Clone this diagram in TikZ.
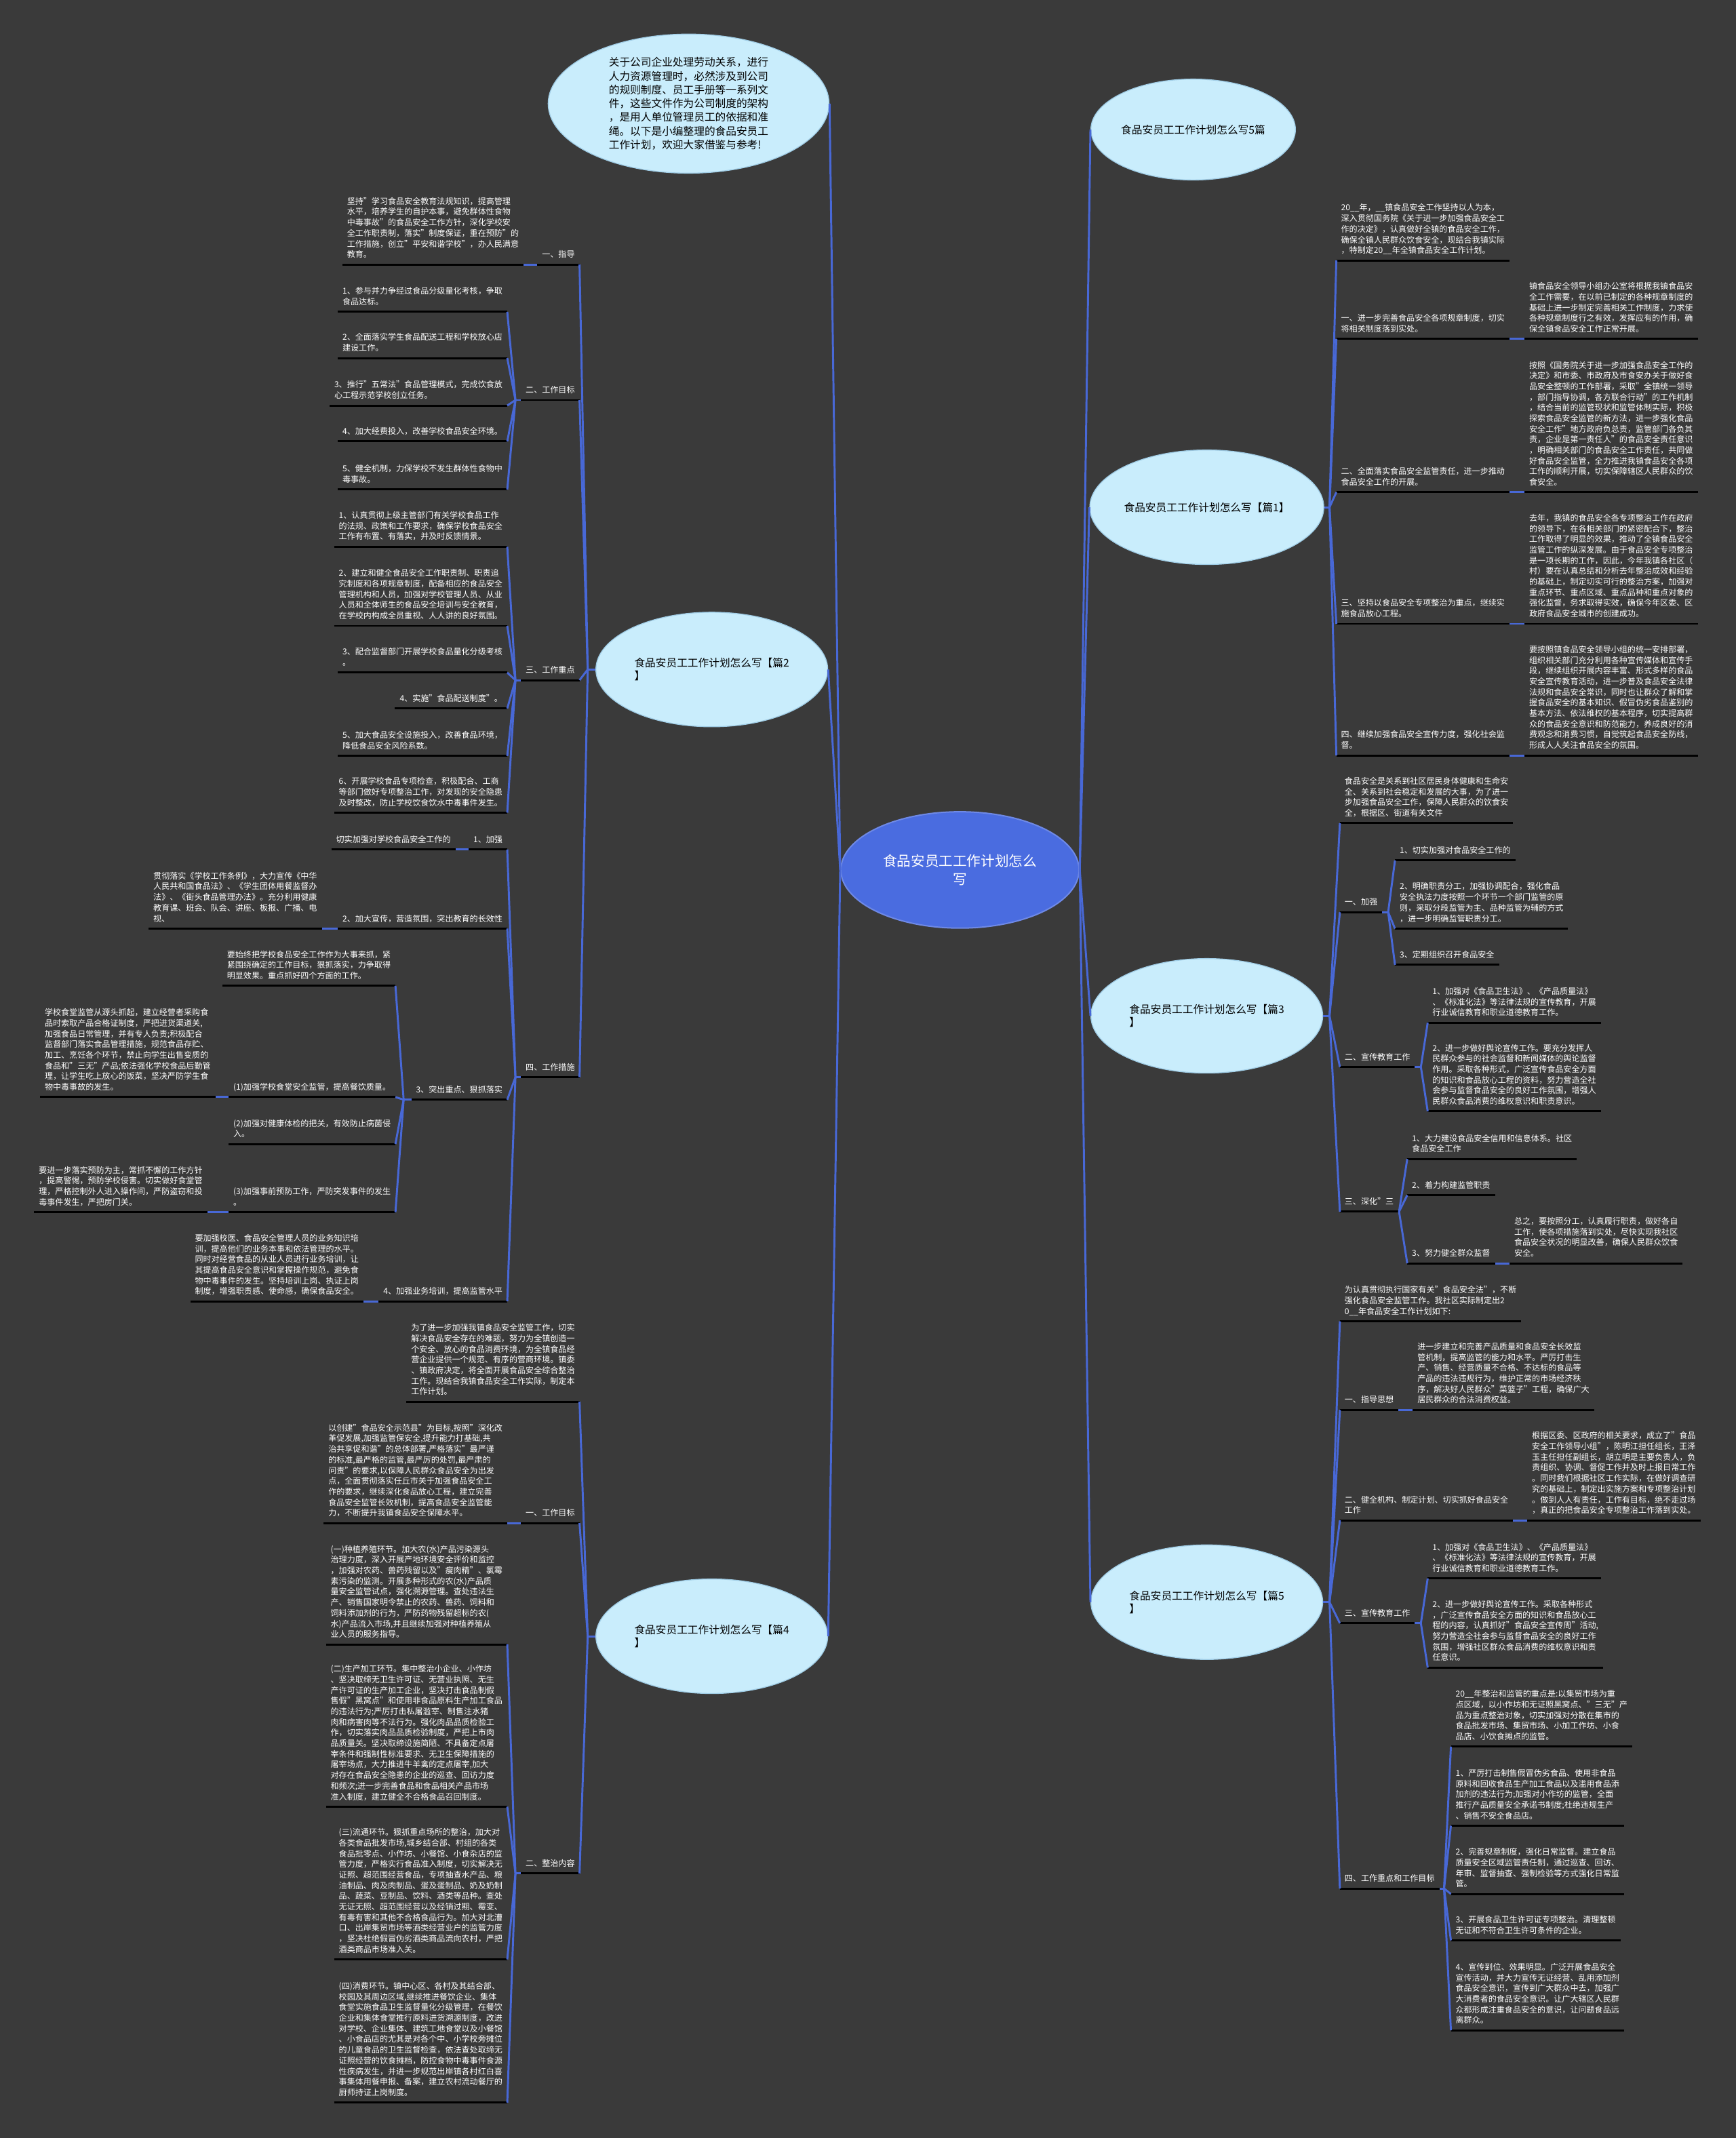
\documentclass[tikz,border=0pt]{standalone}
\usepackage{fontspec}
\setmainfont{Noto Sans CJK SC}
\usetikzlibrary{shapes.geometric}

\definecolor{bgGray}{RGB}{58,58,58}
\definecolor{topicCyan}{RGB}{201,237,252}
\definecolor{topicEdge}{RGB}{160,205,230}
\definecolor{rootBlue}{RGB}{74,108,224}
\definecolor{linkBlue}{RGB}{72,104,214}

\tikzset{every picture/.style={line width=0.75pt}}
\tikzset{
  uline/.style={draw=black, line width=1.1pt},
  link/.style={draw=linkBlue, line width=1.1pt},
  leaf/.style={text=white, align=left, inner xsep=2.25pt, inner ysep=2.3pt,
    font=\fontsize{4.5}{5.85}\selectfont,
    execute at end node={\rule[-1.2pt]{0pt}{1.2pt}},
    append after command={(\tikzlastnode.south west) edge[uline] (\tikzlastnode.south east)}},
  leafL/.style={leaf, anchor=south east},
  leafR/.style={leaf, anchor=south west},
  topic/.style={ellipse, fill=topicCyan, draw=topicEdge, line width=0.5pt, inner sep=0pt,
    align=left, text=black, font=\fontsize{5.85}{7.2}\selectfont,
    minimum width=127.5pt, minimum height=63pt},
  rootnode/.style={ellipse, fill=rootBlue, draw=rootBlue!80!white, inner sep=0pt,
    align=center, text=white, font=\fontsize{7.7}{9.75}\selectfont,
    minimum width=131pt, minimum height=64pt}
}

\begin{document}
\begin{tikzpicture}[x=0.75pt,y=0.75pt,yscale=-1,xscale=1]
\fill[bgGray] (0,0) rectangle (1273,1568);
\useasboundingbox (0,0) rectangle (1273,1568);

%Shape: Ellipse
\node (root) at (704,638) [rootnode] {食品安员工工作计划怎么\\写};
%Shape: Ellipse
\node (intro) at (505,76) [topic, minimum width=154.5pt, minimum height=76.5pt, font=\fontsize{5.85}{7.56}\selectfont] {关于公司企业处理劳动关系，进行\\人力资源管理时，必然涉及到公司\\的规则制度、员工手册等一系列文\\件，这些文件作为公司制度的架构\\，是用人单位管理员工的依据和准\\绳。以下是小编整理的食品安员工\\工作计划，欢迎大家借鉴与参考!};
%Shape: Ellipse
\node (p0) at (875,95) [topic, minimum width=112.5pt, minimum height=55.5pt] {食品安员工工作计划怎么写5篇};
%Shape: Ellipse
\node (p1) at (885,372) [topic] {食品安员工工作计划怎么写【篇1】};
%Shape: Ellipse
\node (p2) at (522,491) [topic] {食品安员工工作计划怎么写【篇2\\】};
%Shape: Ellipse
\node (p3) at (885,745) [topic] {食品安员工工作计划怎么写【篇3\\】};
%Shape: Ellipse
\node (p4) at (522,1200) [topic] {食品安员工工作计划怎么写【篇4\\】};
%Shape: Ellipse
\node (p5) at (885,1175) [topic] {食品安员工工作计划怎么写【篇5\\】};

%Straight Lines
\draw[link] (root.west) -- (intro.east);
\draw[link] (root.west) -- (p2.east);
\draw[link] (root.west) -- (p4.east);
\draw[link] (root.east) -- (p0.west);
\draw[link] (root.east) -- (p1.west);
\draw[link] (root.east) -- (p3.west);
\draw[link] (root.east) -- (p5.west);

% ---------- 篇2 ----------
% Text Node
\node (g1) at (425,194) [leafL] {一、指导};
% Text Node
\node (g1d) at (384,194) [leafL] {坚持"学习食品安全教育法规知识，提高管理\\水平，培养学生的自护本事，避免群体性食物\\中毒事故"的食品安全工作方针，深化学校安\\全工作职责制，落实"制度保证，重在预防"的\\工作措施，创立"平安和谐学校"，办人民满意\\教育。};
% Text Node
\node (g2) at (425,293.4) [leafL] {二、工作目标};
% Text Node
\node (g21) at (372,228.7) [leafL] {1、参与并力争经过食品分级量化考核，争取\\食品达标。};
% Text Node
\node (g22) at (372,262.6) [leafL] {2、全面落实学生食品配送工程和学校放心店\\建设工作。};
% Text Node
\node (g23) at (372,297.4) [leafL] {3、推行"五常法"食品管理模式，完成饮食放\\心工程示范学校创立任务。};
% Text Node
\node (g24) at (372,323.7) [leafL] {4、加大经费投入，改善学校食品安全环境。};
% Text Node
\node (g25) at (372,359) [leafL] {5、健全机制，力保学校不发生群体性食物中\\毒事故。};
% Text Node
\node (g3) at (425,498.8) [leafL] {三、工作重点};
% Text Node
\node (g31) at (372,401) [leafL] {1、认真贯彻上级主管部门有关学校食品工作\\的法规、政策和工作要求，确保学校食品安全\\工作有布置、有落实，并及时反馈情景。};
% Text Node
\node (g32) at (372,459) [leafL] {2、建立和健全食品安全工作职责制、职责追\\究制度和各项规章制度，配备相应的食品安全\\管理机构和人员，加强对学校管理人员、从业\\人员和全体师生的食品安全培训与安全教育，\\在学校内构成全员重视、人人讲的良好氛围。};
% Text Node
\node (g33) at (372,493.3) [leafL] {3、配合监督部门开展学校食品量化分级考核\\。};
% Text Node
\node (g34) at (372,519.6) [leafL] {4、实施"食品配送制度"。};
% Text Node
\node (g35) at (372,554.4) [leafL] {5、加大食品安全设施投入，改善食品环境，\\降低食品安全风险系数。};
% Text Node
\node (g36) at (372,596) [leafL] {6、开展学校食品专项检查，积极配合、工商\\等部门做好专项整治工作，对发现的安全隐患\\及时整改，防止学校饮食饮水中毒事件发生。};
% Text Node
\node (g4) at (425,790) [leafL] {四、工作措施};
% Text Node
\node (g41) at (372,623) [leafL] {1、加强};
% Text Node
\node (g41d) at (334,623) [leafL] {切实加强对学校食品安全工作的};
% Text Node
\node (g42) at (372,681) [leafL] {2、加大宣传，营造氛围，突出教育的长效性};
% Text Node
\node (g42d) at (236,681) [leafL] {贯彻落实《学校工作条例》，大力宣传《中华\\人民共和国食品法》、《学生团体用餐监督办\\法》、《街头食品管理办法》。充分利用健康\\教育课、班会、队会、讲座、板报、广播、电\\视、};
% Text Node
\node (g43) at (372,806.5) [leafL] {3、突出重点、狠抓落实};
% Text Node
\node (g43a) at (290,723) [leafL] {要始终把学校食品安全工作作为大事来抓，紧\\紧围绕确定的工作目标，狠抓落实，力争取得\\明显效果。重点抓好四个方面的工作。};
% Text Node
\node (g43b) at (290,804.6) [leafL] {(1)加强学校食堂安全监管，提高餐饮质量。};
% Text Node
\node (g43bd) at (158,804.6) [leafL] {学校食堂监管从源头抓起，建立经营者采购食\\品时索取产品合格证制度，严把进货渠道关,\\加强食品日常管理，并有专人负责;积极配合\\监督部门落实食品管理措施，规范食品存贮、\\加工、烹饪各个环节，禁止向学生出售变质的\\食品和"三无"产品;依法强化学校食品后勤管\\理，让学生吃上放心的饭菜，坚决严防学生食\\物中毒事故的发生。};
% Text Node
\node (g43c) at (290,839) [leafL] {(2)加强对健康体检的把关，有效防止病菌侵\\入。};
% Text Node
\node (g43d) at (290,889) [leafL] {(3)加强事前预防工作，严防突发事件的发生\\。};
% Text Node
\node (g43dd) at (152,889) [leafL] {要进一步落实预防为主，常抓不懈的工作方针\\，提高警惕，预防学校侵害。切实做好食堂管\\理，严格控制外人进入操作间，严防盗窃和投\\毒事件发生，严把房门关。};
% Text Node
\node (g44) at (372,954.4) [leafL] {4、加强业务培训，提高监管水平};
% Text Node
\node (g44d) at (266.5,954.4) [leafL] {要加强校医、食品安全管理人员的业务知识培\\训，提高他们的业务本事和依法管理的水平。\\同时对经营食品的从业人员进行业务培训，让\\其提高食品安全意识和掌握操作规范，避免食\\物中毒事件的发生。坚持培训上岗、执证上岗\\制度，增强职责感、使命感，确保食品安全。};

\coordinate (p2s) at (431,491);
\coordinate (g2s) at (378,293.4);
\coordinate (g3s) at (378,498.8);
\coordinate (g4s) at (378,790);
\coordinate (g43s) at (296,806.5);

%Straight Lines
\draw[link] (p2.west) -- (p2s);
\draw[link] (p2s) -- (g1.south east);
\draw[link] (p2s) -- (g2.south east);
\draw[link] (p2s) -- (g3.south east);
\draw[link] (p2s) -- (g4.south east);
\draw[link] (g1.south west) -- (g1d.south east);
\draw[link] (g2.south west) -- (g2s);
\draw[link] (g2s) -- (g21.south east);
\draw[link] (g2s) -- (g22.south east);
\draw[link] (g2s) -- (g23.south east);
\draw[link] (g2s) -- (g24.south east);
\draw[link] (g2s) -- (g25.south east);
\draw[link] (g3.south west) -- (g3s);
\draw[link] (g3s) -- (g31.south east);
\draw[link] (g3s) -- (g32.south east);
\draw[link] (g3s) -- (g33.south east);
\draw[link] (g3s) -- (g34.south east);
\draw[link] (g3s) -- (g35.south east);
\draw[link] (g3s) -- (g36.south east);
\draw[link] (g4.south west) -- (g4s);
\draw[link] (g4s) -- (g41.south east);
\draw[link] (g4s) -- (g42.south east);
\draw[link] (g4s) -- (g43.south east);
\draw[link] (g4s) -- (g44.south east);
\draw[link] (g41.south west) -- (g41d.south east);
\draw[link] (g42.south west) -- (g42d.south east);
\draw[link] (g43.south west) -- (g43s);
\draw[link] (g43s) -- (g43a.south east);
\draw[link] (g43s) -- (g43b.south east);
\draw[link] (g43s) -- (g43c.south east);
\draw[link] (g43s) -- (g43d.south east);
\draw[link] (g43b.south west) -- (g43bd.south east);
\draw[link] (g43d.south west) -- (g43dd.south east);
\draw[link] (g44.south west) -- (g44d.south east);

% ---------- 篇4 ----------
% Text Node
\node (h0) at (425,1028) [leafL] {为了进一步加强我镇食品安全监管工作，切实\\解决食品安全存在的难题，努力为全镇创造一\\个安全、放心的食品消费环境，为全镇食品经\\营企业提供一个规范、有序的营商环境。镇委\\、镇政府决定，将全面开展食品安全综合整治\\工作。现结合我镇食品安全工作实际，制定本\\工作计划。};
% Text Node
\node (h1) at (425,1117) [leafL] {一、工作目标};
% Text Node
\node (h1d) at (372,1117) [leafL] {以创建"食品安全示范县"为目标,按照"深化改\\革促发展,加强监管保安全,提升能力打基础,共\\治共享促和谐"的总体部署,严格落实"最严谨\\的标准,最严格的监管,最严厉的处罚,最严肃的\\问责"的要求,以保障人民群众食品安全为出发\\点，全面贯彻落实任丘市关于加强食品安全工\\作的要求，继续深化食品放心工程，建立完善\\食品安全监管长效机制，提高食品安全监管能\\力，不断提升我镇食品安全保障水平。};
% Text Node
\node (h2) at (425,1374) [leafL] {二、整治内容};
% Text Node
\node (h21) at (372,1206) [leafL] {(一)种植养殖环节。加大农(水)产品污染源头\\治理力度，深入开展产地环境安全评价和监控\\，加强对农药、兽药残留以及"瘦肉精"、氯霉\\素污染的监测。开展多种形式的农(水)产品质\\量安全监管试点，强化溯源管理。查处违法生\\产、销售国家明令禁止的农药、兽药、饲料和\\饲料添加剂的行为，严防药物残留超标的农(\\水)产品流入市场,并且继续加强对种植养殖从\\业人员的服务指导。};
% Text Node
\node (h22) at (372,1325) [leafL] {(二)生产加工环节。集中整治小企业、小作坊\\、坚决取缔无卫生许可证、无营业执照、无生\\产许可证的生产加工企业，坚决打击食品制假\\售假"黑窝点"和使用非食品原料生产加工食品\\的违法行为;严厉打击私屠滥宰、制售注水猪\\肉和病害肉等不法行为。强化肉品品质检验工\\作，切实落实肉品品质检验制度，严把上市肉\\品质量关。坚决取缔设施简陋、不具备定点屠\\宰条件和强制性标准要求、无卫生保障措施的\\屠宰场点，大力推进牛羊禽的定点屠宰,加大\\对存在食品安全隐患的企业的巡查、回访力度\\和频次;进一步完善食品和食品相关产品市场\\准入制度，建立健全不合格食品召回制度。};
% Text Node
\node (h23) at (372,1437) [leafL] {(三)流通环节。狠抓重点场所的整治，加大对\\各类食品批发市场,城乡结合部、村组的各类\\食品批零点、小作坊、小餐馆、小食杂店的监\\管力度，严格实行食品准入制度，切实解决无\\证照、超范围经营食品，专项抽查水产品、粮\\油制品、肉及肉制品、蛋及蛋制品、奶及奶制\\品、蔬菜、豆制品、饮料、酒类等品种。查处\\无证无照、超范围经营以及经销过期、霉变、\\有毒有害和其他不合格食品行为。加大对北漕\\口、出岸集贸市场等酒类经营业户的监管力度\\，坚决杜绝假冒伪劣酒类商品流向农村，严把\\酒类商品市场准入关。};
% Text Node
\node (h24) at (372,1542) [leafL] {(四)消费环节。镇中心区、各村及其结合部、\\校园及其周边区域,继续推进餐饮企业、集体\\食堂实施食品卫生监督量化分级管理，在餐饮\\企业和集体食堂推行原料进货溯源制度，改进\\对学校、企业集体、建筑工地食堂以及小餐馆\\、小食品店的尤其是对各个中、小学校旁摊位\\的儿童食品的卫生监督检查，依法查处取缔无\\证照经营的饮食摊档，防控食物中毒事件食源\\性疾病发生，并进一步规范出岸镇各村红白喜\\事集体用餐申报、备案，建立农村流动餐厅的\\厨师持证上岗制度。};

\coordinate (p4s) at (431,1200);
\coordinate (h2s) at (378,1374);

%Straight Lines
\draw[link] (p4.west) -- (p4s);
\draw[link] (p4s) -- (h0.south east);
\draw[link] (p4s) -- (h1.south east);
\draw[link] (p4s) -- (h2.south east);
\draw[link] (h1.south west) -- (h1d.south east);
\draw[link] (h2.south west) -- (h2s);
\draw[link] (h2s) -- (h21.south east);
\draw[link] (h2s) -- (h22.south east);
\draw[link] (h2s) -- (h23.south east);
\draw[link] (h2s) -- (h24.south east);

% ---------- 篇1 ----------
% Text Node
\node (r10) at (980,191) [leafR] {20\_\_年，\_\_镇食品安全工作坚持以人为本，\\深入贯彻国务院《关于进一步加强食品安全工\\作的决定》，认真做好全镇的食品安全工作，\\确保全镇人民群众饮食安全，现结合我镇实际\\，特制定20\_\_年全镇食品安全工作计划。};
% Text Node
\node (r11) at (980,248.6) [leafR] {一、进一步完善食品安全各项规章制度，切实\\将相关制度落到实处。};
% Text Node
\node (r11d) at (1118,248.6) [leafR] {镇食品安全领导小组办公室将根据我镇食品安\\全工作需要，在以前已制定的各种规章制度的\\基础上进一步制定完善相关工作制度，力求使\\各种规章制度行之有效，发挥应有的作用，确\\保全镇食品安全工作正常开展。};
% Text Node
\node (r12) at (980,361) [leafR] {二、全面落实食品安全监管责任，进一步推动\\食品安全工作的开展。};
% Text Node
\node (r12d) at (1118,361) [leafR] {按照《国务院关于进一步加强食品安全工作的\\决定》和市委、市政府及市食安办关于做好食\\品安全整顿的工作部署，采取"全镇统一领导\\，部门指导协调，各方联合行动"的工作机制\\，结合当前的监管现状和监管体制实际，积极\\探索食品安全监管的新方法，进一步强化食品\\安全工作"地方政府负总责，监管部门各负其\\责，企业是第一责任人"的食品安全责任意识\\，明确相关部门的食品安全工作责任，共同做\\好食品安全监管，全力推进我镇食品安全各项\\工作的顺利开展，切实保障辖区人民群众的饮\\食安全。};
% Text Node
\node (r13) at (980,457.5) [leafR] {三、坚持以食品安全专项整治为重点，继续实\\施食品放心工程。};
% Text Node
\node (r13d) at (1118,457.5) [leafR] {去年，我镇的食品安全各专项整治工作在政府\\的领导下，在各相关部门的紧密配合下，整治\\工作取得了明显的效果，推动了全镇食品安全\\监管工作的纵深发展。由于食品安全专项整治\\是一项长期的工作，因此，今年我镇各社区（\\村）要在认真总结和分析去年整治成效和经验\\的基础上，制定切实可行的整治方案，加强对\\重点环节、重点区域、重点品种和重点对象的\\强化监督，务求取得实效，确保今年区委、区\\政府食品安全城市的创建成功。};
% Text Node
\node (r14) at (980,554) [leafR] {四、继续加强食品安全宣传力度，强化社会监\\督。};
% Text Node
\node (r14d) at (1118,554) [leafR] {要按照镇食品安全领导小组的统一安排部署，\\组织相关部门充分利用各种宣传媒体和宣传手\\段，继续组织开展内容丰富、形式多样的食品\\安全宣传教育活动，进一步普及食品安全法律\\法规和食品安全常识，同时也让群众了解和掌\\握食品安全的基本知识、假冒伪劣食品鉴别的\\基本方法、依法维权的基本程序，切实提高群\\众的食品安全意识和防范能力，养成良好的消\\费观念和消费习惯，自觉筑起食品安全防线，\\形成人人关注食品安全的氛围。};

\coordinate (p1s) at (975,372);

%Straight Lines
\draw[link] (p1.east) -- (p1s);
\draw[link] (p1s) -- (r10.south west);
\draw[link] (p1s) -- (r11.south west);
\draw[link] (p1s) -- (r12.south west);
\draw[link] (p1s) -- (r13.south west);
\draw[link] (p1s) -- (r14.south west);
\draw[link] (r11.south east) -- (r11d.south west);
\draw[link] (r12.south east) -- (r12d.south west);
\draw[link] (r13.south east) -- (r13d.south west);
\draw[link] (r14.south east) -- (r14d.south west);

% ---------- 篇3 ----------
% Text Node
\node (r30) at (982.6,603.7) [leafR] {食品安全是关系到社区居民身体健康和生命安\\全、关系到社会稳定和发展的大事，为了进一\\步加强食品安全工作，保障人民群众的饮食安\\全，根据区、街道有关文件};
% Text Node
\node (r31) at (982.6,669) [leafR] {一、加强};
% Text Node
\node (r311) at (1023,631) [leafR] {1、切实加强对食品安全工作的};
% Text Node
\node (r312) at (1023,681) [leafR] {2、明确职责分工，加强协调配合，强化食品\\安全执法力度按照一个环节一个部门监管的原\\则，采取分段监管为主、品种监管为辅的方式\\，进一步明确监管职责分工。};
% Text Node
\node (r313) at (1023,707.6) [leafR] {3、定期组织召开食品安全};
% Text Node
\node (r32) at (982.6,782.5) [leafR] {二、宣传教育工作};
% Text Node
\node (r321) at (1047,750) [leafR] {1、加强对《食品卫生法》、《产品质量法》\\、《标准化法》等法律法规的宣传教育，开展\\行业诚信教育和职业道德教育工作。};
% Text Node
\node (r322) at (1047,815) [leafR] {2、进一步做好舆论宣传工作。要充分发挥人\\民群众参与的社会监督和新闻媒体的舆论监督\\作用。采取各种形式，广泛宣传食品安全方面\\的知识和食品放心工程的资料，努力营造全社\\会参与监督食品安全的良好工作氛围，增强人\\民群众食品消费的维权意识和职责意识。};
% Text Node
\node (r33) at (982.6,888.6) [leafR] {三、深化"三};
% Text Node
\node (r331) at (1032,850) [leafR] {1、大力建设食品安全信用和信息体系。社区\\食品安全工作};
% Text Node
\node (r332) at (1032,876.5) [leafR] {2、着力构建监管职责};
% Text Node
\node (r333) at (1032,926.5) [leafR] {3、努力健全群众监督};
% Text Node
\node (r333d) at (1107,926.5) [leafR] {总之，要按照分工，认真履行职责，做好各自\\工作，使各项措施落到实处，尽快实现我社区\\食品安全状况的明显改善，确保人民群众饮食\\安全。};

\coordinate (p3s) at (975,745);
\coordinate (r31s) at (1018,669);
\coordinate (r32s) at (1042,782.5);
\coordinate (r33s) at (1026,888.6);

%Straight Lines
\draw[link] (p3.east) -- (p3s);
\draw[link] (p3s) -- (r30.south west);
\draw[link] (p3s) -- (r31.south west);
\draw[link] (p3s) -- (r32.south west);
\draw[link] (p3s) -- (r33.south west);
\draw[link] (r31.south east) -- (r31s);
\draw[link] (r31s) -- (r311.south west);
\draw[link] (r31s) -- (r312.south west);
\draw[link] (r31s) -- (r313.south west);
\draw[link] (r32.south east) -- (r32s);
\draw[link] (r32s) -- (r321.south west);
\draw[link] (r32s) -- (r322.south west);
\draw[link] (r33.south east) -- (r33s);
\draw[link] (r33s) -- (r331.south west);
\draw[link] (r33s) -- (r332.south west);
\draw[link] (r33s) -- (r333.south west);
\draw[link] (r333.south east) -- (r333d.south west);

% ---------- 篇5 ----------
% Text Node
\node (r50) at (982.6,969) [leafR] {为认真贯彻执行国家有关"食品安全法"，不断\\强化食品安全监管工作。我社区实际制定出2\\0\_\_年食品安全工作计划如下:};
% Text Node
\node (r51) at (982.6,1034) [leafR] {一、指导思想};
% Text Node
\node (r51d) at (1036,1034) [leafR] {进一步建立和完善产品质量和食品安全长效监\\管机制，提高监管的能力和水平。严厉打击生\\产、销售、经营质量不合格、不达标的食品等\\产品的违法违规行为，维护正常的市场经济秩\\序，解决好人民群众"菜篮子"工程，确保广大\\居民群众的合法消费权益。};
% Text Node
\node (r52) at (982.6,1115) [leafR] {二、健全机构、制定计划、切实抓好食品安全\\工作};
% Text Node
\node (r52d) at (1120,1115) [leafR] {根据区委、区政府的相关要求，成立了"食品\\安全工作领导小组"，陈明江担任组长，王泽\\玉主任担任副组长，胡立明是主要负责人，负\\责组织、协调、督促工作并及时上报日常工作\\。同时我们根据社区工作实际，在做好调查研\\究的基础上，制定出实施方案和专项整治计划\\。做到人人有责任，工作有目标，绝不走过场\\，真正的把食品安全专项整治工作落到实处。};
% Text Node
\node (r53) at (982.6,1190.5) [leafR] {三、宣传教育工作};
% Text Node
\node (r531) at (1047,1157.6) [leafR] {1、加强对《食品卫生法》、《产品质量法》\\、《标准化法》等法律法规的宣传教育，开展\\行业诚信教育和职业道德教育工作。};
% Text Node
\node (r532) at (1047,1223) [leafR] {2、进一步做好舆论宣传工作。采取各种形式\\，广泛宣传食品安全方面的知识和食品放心工\\程的内容，认真抓好"食品安全宣传周"活动,\\努力营造全社会参与监督食品安全的良好工作\\氛围，增强社区群众食品消费的维权意识和责\\任意识。};
% Text Node
\node (r54) at (982.6,1385) [leafR] {四、工作重点和工作目标};
% Text Node
\node (r541) at (1064,1281) [leafR] {20\_\_年整治和监管的重点是:以集贸市场为重\\点区域，以小作坊和无证照黑窝点、"三无"产\\品为重点整治对象，切实加强对分散在集市的\\食品批发市场、集贸市场、小加工作坊、小食\\品店、小饮食摊点的监管。};
% Text Node
\node (r542) at (1064,1339) [leafR] {1、严厉打击制售假冒伪劣食品、使用非食品\\原料和回收食品生产加工食品以及滥用食品添\\加剂的违法行为;加强对小作坊的监管，全面\\推行产品质量安全承诺书制度;杜绝违规生产\\、销售不安全食品店。};
% Text Node
\node (r543) at (1064,1389) [leafR] {2、完善规章制度，强化日常监督。建立食品\\质量安全区域监管责任制，通过巡查、回访、\\年审、监督抽查、强制检验等方式强化日常监\\管。};
% Text Node
\node (r544) at (1064,1423) [leafR] {3、开展食品卫生许可证专项整治。清理整顿\\无证和不符合卫生许可条件的企业。};
% Text Node
\node (r545) at (1064,1489) [leafR] {4、宣传到位、效果明显。广泛开展食品安全\\宣传活动，并大力宣传无证经营、乱用添加剂\\食品安全意识，宣传到广大群众中去，加强广\\大消费者的食品安全意识。让广大辖区人民群\\众都形成注重食品安全的意识，让问题食品远\\离群众。};

\coordinate (p5s) at (975,1175);
\coordinate (r53s) at (1042,1190.5);
\coordinate (r54s) at (1059,1385);

%Straight Lines
\draw[link] (p5.east) -- (p5s);
\draw[link] (p5s) -- (r50.south west);
\draw[link] (p5s) -- (r51.south west);
\draw[link] (p5s) -- (r52.south west);
\draw[link] (p5s) -- (r53.south west);
\draw[link] (p5s) -- (r54.south west);
\draw[link] (r51.south east) -- (r51d.south west);
\draw[link] (r52.south east) -- (r52d.south west);
\draw[link] (r53.south east) -- (r53s);
\draw[link] (r53s) -- (r531.south west);
\draw[link] (r53s) -- (r532.south west);
\draw[link] (r54.south east) -- (r54s);
\draw[link] (r54s) -- (r541.south west);
\draw[link] (r54s) -- (r542.south west);
\draw[link] (r54s) -- (r543.south west);
\draw[link] (r54s) -- (r544.south west);
\draw[link] (r54s) -- (r545.south west);

\end{tikzpicture}
\end{document}
